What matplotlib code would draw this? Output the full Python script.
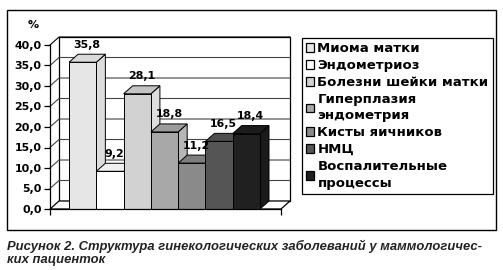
import matplotlib.pyplot as plt
from matplotlib.patches import Polygon, Rectangle, Patch

plt.rcParams['font.family'] = ['DejaVu Sans']

categories = ['Миома матки', 'Эндометриоз', 'Болезни шейки матки',
              'Гиперплазия\nэндометрия', 'Кисты яичников', 'НМЦ',
              'Воспалительные\nпроцессы']
values = [35.8, 9.2, 28.1, 18.8, 11.2, 16.5, 18.4]
front = ['#e6e6e6', '#ffffff', '#d2d2d2', '#a8a8a8', '#8a8a8a', '#555555', '#202020']
side = ['#dcdcdc', '#f2f2f2', '#dedede', '#b6b6b6', '#969696', '#4a4a4a', '#1a1a1a']
top = ['#dadada', '#f0f0f0', '#c4c4c4', '#9c9c9c', '#7e7e7e', '#4e4e4e', '#1c1c1c']
yticks = [0, 5, 10, 15, 20, 25, 30, 35, 40]
caption = ('Рисунок 2. Структура гинекологических заболеваний у маммологичес-\n'
           'ких пациенток')

W, H = 503, 270
fig = plt.figure(figsize=(W / 100, H / 100), dpi=100)

# outer frame
fig.patches.append(Rectangle((7 / W, 1 - 230 / H), 489 / W, 220 / H,
                             transform=fig.transFigure, fill=False,
                             edgecolor='black', lw=1.0))

ax = fig.add_axes([50 / W, 1 - 209 / H, 231 / W, 164 / H])
xmin, xmax = -0.70, 7.77
ymax = 40
dx, dy = 0.33, 1.95
ax.set_xlim(xmin, xmax)
ax.set_ylim(0, ymax)
ax.patch.set_visible(False)
for s in ['top', 'right']:
    ax.spines[s].set_visible(False)
ax.spines['left'].set_linewidth(0.9)
ax.spines['bottom'].set_linewidth(0.9)

# back wall and floor
ax.add_patch(Polygon([(xmin + dx, dy), (xmax + dx, dy), (xmax + dx, ymax + dy),
                      (xmin + dx, ymax + dy)], closed=True, facecolor='white',
                     edgecolor='black', lw=0.9, clip_on=False, zorder=1))
ax.add_patch(Polygon([(xmin, 0), (xmax, 0), (xmax + dx, dy), (xmin + dx, dy)],
                     closed=True, facecolor='white', edgecolor='black',
                     lw=0.9, clip_on=False, zorder=1))
for y in yticks[1:]:
    c = 'black' if y == ymax else '#444444'
    ax.plot([xmin, xmin + dx, xmax + dx], [y, y + dy, y + dy], color=c,
            lw=0.8, clip_on=False, zorder=1.5)

# bars
for i, (v, f, sd, tp) in enumerate(zip(values, front, side, top)):
    x0, x1 = i, i + 1
    z = 2 + i * 0.1
    ax.add_patch(Polygon([(x1, 0), (x1 + dx, dy), (x1 + dx, v + dy), (x1, v)],
                         facecolor=sd, edgecolor='black', lw=0.7,
                         clip_on=False, zorder=z))
    ax.add_patch(Polygon([(x0, v), (x0 + dx, v + dy), (x1 + dx, v + dy), (x1, v)],
                         facecolor=tp, edgecolor='black', lw=0.7,
                         clip_on=False, zorder=z))
    ax.add_patch(Rectangle((x0, 0), 1, v, facecolor=f, edgecolor='black',
                           lw=0.7, clip_on=False, zorder=z))

for i, v in enumerate(values):
    ax.text(i + 0.5 + dx / 2, v + dy + 2.3, f'{v:.1f}'.replace('.', ','),
            ha='center', va='center', fontsize=7.9, fontweight='bold',
            zorder=5)

ax.set_yticks(yticks)
ax.set_yticklabels([f'{t:.1f}'.replace('.', ',') for t in yticks],
                   fontsize=7.9, fontweight='bold')
ax.set_xticks([xmin, xmax])
ax.set_xticklabels([])
ax.tick_params(direction='out', length=4, width=0.9, pad=2)
ax.text(-0.074, 1.122, '%', transform=ax.transAxes, fontsize=7.9,
        fontweight='bold', ha='center', va='center')

# legend
handles = [Patch(facecolor=f, edgecolor='black', lw=0.9) for f in front]
leg = fig.legend(handles, categories, loc='upper left',
                 bbox_to_anchor=(302 / W, 1 - 38 / H),
                 prop={'weight': 'bold', 'size': 9.5}, frameon=True,
                 fancybox=False, edgecolor='black', framealpha=1,
                 handlelength=0.62, handleheight=0.62, handletextpad=0.25,
                 labelspacing=0.3, borderpad=0.3, borderaxespad=0)
leg.get_frame().set_linewidth(0.9)
for t in leg.get_texts():
    t.set_linespacing(1.35)

fig.text(7 / W, 1 - 253 / H, caption, fontsize=9.4, fontweight='bold',
         fontstyle='italic', ha='left', va='center', linespacing=1.1,
         color='#222222', family='Liberation Sans')

fig.savefig('out.png', dpi=100)
